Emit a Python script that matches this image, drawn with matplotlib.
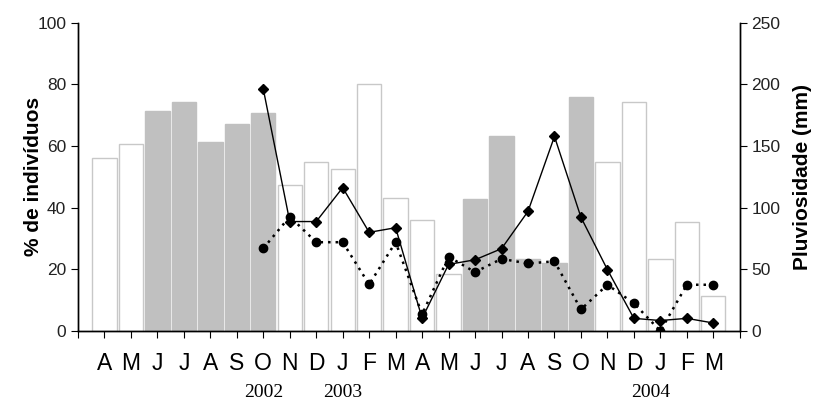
import numpy as np
import matplotlib
matplotlib.use("Agg")
import matplotlib.pyplot as plt
import matplotlib.transforms as mtransforms

plt.rcParams['font.family'] = ['Liberation Sans', 'DejaVu Sans']

# months Apr 2002 .. Mar 2004
months = ['A', 'M', 'J', 'J', 'A', 'S', 'O', 'N', 'D', 'J', 'F', 'M',
          'A', 'M', 'J', 'J', 'A', 'S', 'O', 'N', 'D', 'J', 'F', 'M']
# rainfall (mm), right axis
rain = [140, 152, 178, 186, 153, 168, 177, 118, 137, 131, 200, 108,
        90, 46, 107, 158, 58, 55, 190, 137, 186, 58, 88, 28]
# gray bars = rainy months highlighted
gray = [False, False, True, True, True, True, True, False, False, False, False, False,
        False, False, True, True, True, True, True, False, False, False, False, False]
# % individuals (start in Oct 2002)
solid_pct = [78.5, 35.5, 35.5, 46.5, 32.0, 33.5, 4.1, 21.6, 23.1, 26.7,
             38.8, 63.1, 36.9, 19.9, 4.1, 3.4, 4.1, 2.6]
dotted_pct = [26.8, 37.1, 28.8, 28.8, 15.1, 28.8, 5.4, 24.1, 19.1, 23.4,
              21.9, 22.6, 7.0, 15.0, 9.0, 0.0, 15.0, 15.0]
years = ['2002', '2003', '2004']
year_pos = [7, 10, 21.65]

x = np.arange(1, len(months) + 1)
xl = x[6:]

fig = plt.figure(figsize=(8.14, 4.0), dpi=100)
ax = fig.add_axes([0.0958, 0.1725, 0.813, 0.7708])
ax2 = ax.twinx()

colors = ['#c0c0c0' if g else 'white' for g in gray]
edges = ['#c0c0c0' if g else '#c8c8c8' for g in gray]
ax2.bar(x, rain, width=0.92, color=colors, edgecolor=edges, linewidth=1.0)
ax2.set_ylim(0, 250)
ax2.set_yticks(range(0, 251, 50))

ax.plot(xl, solid_pct, '-', color='black', lw=1.0, marker='D', ms=5)
ax.plot(xl, dotted_pct, color='black', lw=1.8, linestyle=(0, (1, 2)),
        marker='o', ms=6)
ax.set_ylim(0, 100)
ax.set_yticks(range(0, 101, 20))
ax.set_xlim(0, 25)
ax.set_xticks(range(0, 26))
ax.set_xticklabels([''] + months + [''], fontsize=16.5)

ax.set_zorder(ax2.get_zorder() + 1)
ax.patch.set_visible(False)

for a in (ax, ax2):
    a.spines['top'].set_visible(False)
    for s in a.spines.values():
        s.set_linewidth(1.0)
ax.tick_params(axis='x', length=5, pad=10)
ax.tick_params(axis='y', length=5, labelsize=12.5, labelcolor='#222222')
ax2.tick_params(axis='y', length=5, labelsize=12.5, labelcolor='#222222')

ax.set_ylabel('% de indivíduos', fontsize=15, fontweight='bold', labelpad=-4)
ax2.set_ylabel('Pluviosidade (mm)', fontsize=15, fontweight='bold', labelpad=9)

trans = mtransforms.blended_transform_factory(ax.transData, fig.transFigure)
for yp, yr in zip(year_pos, years):
    ax.text(yp, 0.018, yr, transform=trans, ha='center', va='center',
            fontfamily=['Liberation Serif', 'DejaVu Serif'], fontsize=14)

fig.savefig('out.png', dpi=100)
